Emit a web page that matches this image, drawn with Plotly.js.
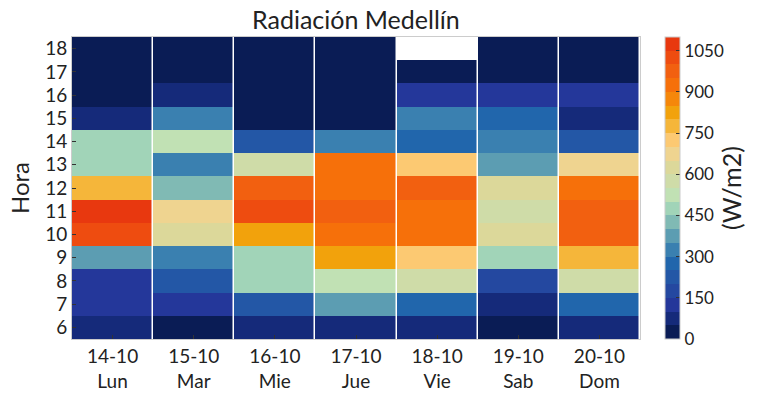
<!DOCTYPE html>
<html>
<head>
<meta charset="utf-8">
<script src="https://cdn.plot.ly/plotly-3.0.1.min.js"></script>
<style>html,body{margin:0;padding:0;background:#fff;}#chart{width:767px;height:395px;}</style>
</head>
<body>
<div id="chart"></div>
<script>
// Data
var dates = ['14-10','15-10','16-10','17-10','18-10','19-10','20-10'];
var weekdays = ['Lun','Mar','Mie','Jue','Vie','Sab','Dom'];
var hours = [6,7,8,9,10,11,12,13,14,15,16,17,18];
// Radiation (W/m2) per day, by hour 6..18
var lun = [75,125,130,375,1025,1075,775,475,470,75,20,0,0];
var mar = [25,125,225,325,625,675,425,325,525,325,75,10,0];
var mie = [75,225,475,475,825,1025,975,575,225,30,10,0,0];
var jue = [75,375,525,825,925,975,925,925,325,40,10,0,0];
var vie = [75,275,575,725,925,925,975,725,275,325,125,20,null];
var sab = [25,75,175,475,625,575,625,375,325,275,125,15,0];
var dom = [75,275,575,775,975,975,925,675,225,75,125,10,0];
var colorTicks = [0,150,300,450,600,750,900,1050];
var binColors = ['#0a1c55','#152a7a','#24379a','#2448a0','#2357a6','#2166ac','#3a80b0','#5c9db2',
  '#80bab4','#a1d4b8','#c1e1b4','#cfdca8','#dcd89a','#efd490','#fcc972','#f5b63a','#f2a20c',
  '#f5870a','#f6700a','#f26010','#ee4c10','#e8380f'];
var zMax = 1100;

var days = [lun,mar,mie,jue,vie,sab,dom];
var xlabels = dates.map(function(d,i){return d+'<br>'+weekdays[i];});
var z = hours.map(function(h,r){return days.map(function(d){return d[r];});});

var n = binColors.length;
var cs = [];
binColors.forEach(function(c,i){cs.push([i/n,c]);cs.push([(i+1)/n,c]);});

var font = 'Lato, "Noto Sans", sans-serif';
var trace = {
  type:'heatmap', x:xlabels, y:hours, z:z,
  zmin:0, zmax:zMax, colorscale:cs, xgap:1.5, hoverongaps:false,
  colorbar:{
    x:1.044, xanchor:'left', xpad:0, ypad:0, y:0.5, yanchor:'middle', len:1, lenmode:'fraction',
    thickness:15, outlinecolor:'#cccccc', outlinewidth:1,
    tickvals:colorTicks, ticks:'inside', ticklen:4, tickcolor:'#333', tickwidth:1,
    tickfont:{family:font,size:17,color:'#222'},
    title:{text:'(W/m2)', side:'right', font:{family:font,size:25,color:'#222'}}
  }
};
var layout = {
  width:767, height:395,
  margin:{l:72,r:127,t:37,b:56},
  paper_bgcolor:'#fff', plot_bgcolor:'#fff',
  title:{text:'Radiación Medellín', x:0.464, xanchor:'center', y:0.95, yanchor:'middle',
    font:{family:font,size:25,color:'#222'}},
  xaxis:{type:'category', showgrid:false, zeroline:false, showline:true, mirror:true,
    linecolor:'#cccccc', linewidth:1, ticks:'inside', ticklen:4, tickcolor:'#333',
    tickfont:{family:font,size:19,color:'#222'}},
  yaxis:{range:[5.5,18.5], tickvals:hours, showgrid:false, zeroline:false, showline:true, mirror:true,
    linecolor:'#cccccc', linewidth:1, ticks:'inside', ticklen:4, tickcolor:'#333',
    tickfont:{family:font,size:19,color:'#222'},
    title:{text:'Hora', standoff:8, font:{family:font,size:24,color:'#222'}}}
};
Plotly.newPlot('chart',[trace],layout,{displayModeBar:false,staticPlot:true});
</script>
</body>
</html>
